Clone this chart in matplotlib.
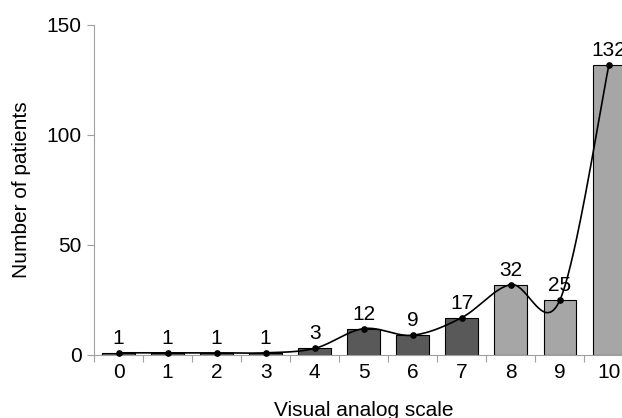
import numpy as np
import matplotlib
matplotlib.use("Agg")
import matplotlib.pyplot as plt

categories = [0, 1, 2, 3, 4, 5, 6, 7, 8, 9, 10]
values = [1, 1, 1, 1, 3, 12, 9, 17, 32, 25, 132]
dark_color = "#595959"
light_color = "#a6a6a6"
colors = [dark_color] * 8 + [light_color] * 3

plt.rcParams['font.family'] = ['Liberation Sans', 'DejaVu Sans']
FS = 15

fig = plt.figure(figsize=(6.22, 4.18), dpi=100)
ax = fig.add_axes([94 / 622, 1 - 355 / 418, (633.5 - 94) / 622, (355 - 25) / 418])

x = np.array(categories, dtype=float)
y = np.array(values, dtype=float)
ax.bar(x, y, width=0.67, color=colors, edgecolor="black", linewidth=0.8, zorder=2)

# Excel-style smoothed line (Catmull-Rom Bezier)
px = np.concatenate([[x[0]], x, [x[-1]]])
py = np.concatenate([[y[0]], y, [y[-1]]])
t = np.linspace(0, 1, 40)
cx, cy = [], []
for i in range(len(x) - 1):
    p0 = np.array([x[i], y[i]])
    p3 = np.array([x[i + 1], y[i + 1]])
    p1 = p0 + (np.array([px[i + 2], py[i + 2]]) - np.array([px[i], py[i]])) / 6
    p2 = p3 - (np.array([px[i + 3], py[i + 3]]) - np.array([px[i + 1], py[i + 1]])) / 6
    b = ((1 - t) ** 3)[:, None] * p0 + (3 * (1 - t) ** 2 * t)[:, None] * p1 \
        + (3 * (1 - t) * t ** 2)[:, None] * p2 + (t ** 3)[:, None] * p3
    cx.extend(b[:, 0]); cy.extend(b[:, 1])
ax.plot(cx, cy, color="black", linewidth=1.2, zorder=3, clip_on=False)
ax.plot(x, y, "o", color="black", markersize=3.8, zorder=4, clip_on=False)

for xi, yi in zip(x, y):
    ax.annotate(str(int(yi)), (xi, yi), xytext=(0, 6.5), textcoords="offset points",
                ha="center", va="baseline", fontsize=FS, zorder=5)

ax.set_xlim(-0.5, 10.5)
ax.set_ylim(0, 150)
ax.set_yticks([0, 50, 100, 150])
ax.set_xticks(x)
ax.set_xticklabels([str(c) for c in categories])
ax.set_xticks(np.arange(-0.5, 10.6, 1), minor=True)
ax.tick_params(axis="x", which="major", length=0, labelsize=FS, pad=6)
ax.tick_params(axis="x", which="minor", length=5, color="#a0a0a0", width=0.8)
ax.tick_params(axis="y", length=5, color="#a0a0a0", width=0.8, labelsize=FS, pad=4)
for s in ["top", "right"]:
    ax.spines[s].set_visible(False)
for s in ["left", "bottom"]:
    ax.spines[s].set_color("#a0a0a0")
    ax.spines[s].set_linewidth(0.8)

ax.set_ylabel("Number of patients", fontsize=FS)
ax.yaxis.set_label_coords(-(94 - 22) / (633.5 - 94), 0.5)
ax.set_xlabel("Visual analog scale", fontsize=FS)
ax.xaxis.set_label_coords(0.5, -(410 - 355) / (355 - 25))
ax.xaxis.label.set_va("center")
ax.yaxis.label.set_va("center")

fig.savefig("out.png", dpi=100)
